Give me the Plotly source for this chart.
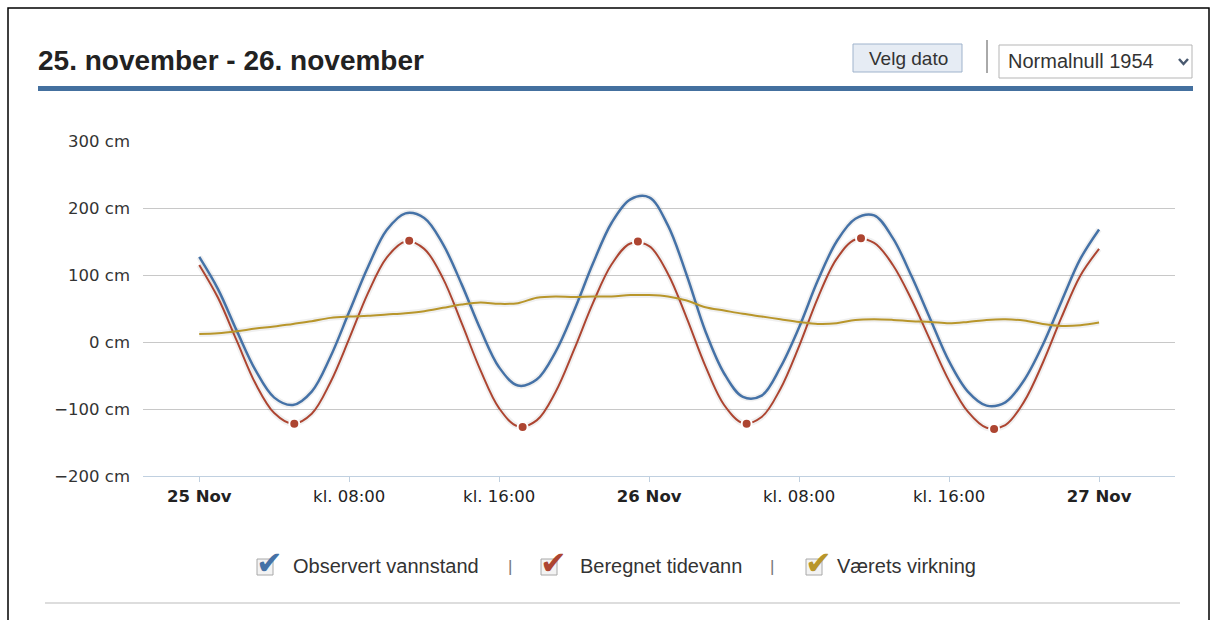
import pandas as pd
import plotly.graph_objects as go

# ---------------- data ----------------
start_time = "2013-11-25 00:00"
hours = list(range(49))  # hourly samples from 25 Nov 00:00 to 27 Nov 00:00

observed = [127, 79, 17, -42, -83, -94, -74, -22, 45, 112,
            167, 192, 185, 146, 86, 19, -38, -65, -56, -15,
            47, 117, 178, 213, 216, 174, 100, 16, -47, -82,
            -80, -38, 22, 92, 150, 184, 189, 155, 98, 34,
            -29, -74, -95, -90, -57, -4, 61, 124, 168]

tide = [115, 66, 2, -62, -106, -122, -107, -60, 5, 73,
        126, 150, 139, 95, 28, -42, -99, -126, -117, -75,
        -11, 58, 116, 147, 143, 102, 36, -36, -94, -121,
        -112, -70, -6, 66, 124, 153, 148, 115, 63, 2,
        -58, -104, -128, -124, -89, -31, 37, 99, 139]

weather = [12, 13, 16, 20, 23, 27, 31, 36, 38, 39,
           41, 43, 46, 51, 56, 59, 57, 58, 66, 68,
           67, 68, 68, 70, 70, 68, 62, 52, 47, 42,
           38, 34, 30, 27, 28, 33, 34, 33, 31, 30,
           28, 30, 33, 34, 32, 27, 24, 25, 29]

tide_extreme_hours = [5.07, 11.2, 17.25, 23.4, 29.2, 35.3, 42.4]
tide_extreme_values = [-122, 151, -127, 150, -122, 155, -130]

x_tick_hours = [0, 8, 16, 24, 32, 40, 48]
x_tick_labels = ["<b>25 Nov</b>", "kl. 08:00", "kl. 16:00", "<b>26 Nov</b>",
                 "kl. 08:00", "kl. 16:00", "<b>27 Nov</b>"]
y_tick_values = [-200, -100, 0, 100, 200, 300]
y_tick_labels = ["\u2212200 cm", "\u2212100 cm", "0 cm", "100 cm", "200 cm", "300 cm"]

series_names = ["Observert vannstand", "Beregnet tidevann", "Værets virkning"]
title_text = "25. november - 26. november"
button_text = "Velg dato"
datum_text = "Normalnull 1954"

# ---------------- styling ----------------
BLUE = "#4572A7"
RED = "#AD4531"
GOLD = "#B8962B"
series_colors = [BLUE, RED, GOLD]
UI_FONT = "Arial, Liberation Sans"

W, H = 1217, 620
PL, PR, PT, PB = 143, 1175, 141, 476  # plot area in pixels


def px(x):
    return (x - PL) / (PR - PL)


def py(y):
    return (PB - y) / (PB - PT)


base = pd.Timestamp(start_time)


def to_time(h):
    return (base + pd.Timedelta(hours=h)).strftime("%Y-%m-%d %H:%M:%S")


x_times = [to_time(h) for h in hours]

fig = go.Figure()

# soft shadows under the lines
for vals in (observed, tide, weather):
    fig.add_trace(go.Scatter(x=x_times, y=vals, mode="lines", showlegend=False,
                             line=dict(color="rgba(0,0,0,0.06)", width=6, shape="spline")))

fig.add_trace(go.Scatter(x=x_times, y=observed, name=series_names[0], mode="lines",
                         line=dict(color=BLUE, width=2.5, shape="spline")))
fig.add_trace(go.Scatter(x=x_times, y=tide, name=series_names[1], mode="lines",
                         line=dict(color=RED, width=2, shape="spline")))
fig.add_trace(go.Scatter(x=[to_time(h) for h in tide_extreme_hours], y=tide_extreme_values,
                         name=series_names[1], mode="markers",
                         marker=dict(color=RED, size=10, line=dict(color="white", width=2))))
fig.add_trace(go.Scatter(x=x_times, y=weather, name=series_names[2], mode="lines",
                         line=dict(color=GOLD, width=2, shape="spline")))

fig.update_xaxes(type="date", range=[to_time(-3.0), to_time(52.05)],
                 tickvals=[to_time(h) for h in x_tick_hours], ticktext=x_tick_labels,
                 ticks="outside", ticklen=5, tickcolor="#C0D0E0",
                 showline=True, linecolor="#C0D0E0", linewidth=1,
                 showgrid=False, zeroline=False,
                 tickfont=dict(family="DejaVu Sans", size=16.5, color="#222"))
fig.update_yaxes(range=[-200, 300], tickvals=y_tick_values, ticktext=y_tick_labels,
                 showgrid=True, gridcolor="#C8C8C8", gridwidth=1, zeroline=False,
                 showline=False, ticks="", ticklabelstandoff=12,
                 tickfont=dict(family="DejaVu Sans", size=16.5, color="#333"))

shapes = []
annotations = []

# outer frame
shapes.append(dict(type="rect", xref="paper", yref="paper",
                   x0=px(8), x1=px(1209), y0=py(8), y1=py(640),
                   line=dict(color="black", width=1.5), fillcolor="rgba(0,0,0,0)", layer="below"))
# title
annotations.append(dict(xref="paper", yref="paper", x=px(36), y=py(60), xanchor="left", yanchor="middle",
                        text="<b>" + title_text + "</b>", showarrow=False,
                        font=dict(family=UI_FONT, size=28, color="#222")))
# blue header bar
shapes.append(dict(type="rect", xref="paper", yref="paper",
                   x0=px(38), x1=px(1193), y0=py(86), y1=py(91),
                   line=dict(width=0), fillcolor="#44709F"))
# button
shapes.append(dict(type="rect", xref="paper", yref="paper",
                   x0=px(853), x1=px(962), y0=py(44), y1=py(72),
                   line=dict(color="#9FB3CC", width=1), fillcolor="#E6ECF4"))
annotations.append(dict(xref="paper", yref="paper", x=px(908), y=py(58), xanchor="center", yanchor="middle",
                        text=button_text, showarrow=False,
                        font=dict(family=UI_FONT, size=19, color="#333")))
# separator
shapes.append(dict(type="line", xref="paper", yref="paper",
                   x0=px(987), x1=px(987), y0=py(40), y1=py(73),
                   line=dict(color="#555", width=1)))
# dropdown
shapes.append(dict(type="rect", xref="paper", yref="paper",
                   x0=px(999), x1=px(1192), y0=py(45), y1=py(78),
                   line=dict(color="#B5B5B5", width=1), fillcolor="white"))
annotations.append(dict(xref="paper", yref="paper", x=px(1006), y=py(61), xanchor="left", yanchor="middle",
                        text=datum_text, showarrow=False,
                        font=dict(family=UI_FONT, size=20, color="#333")))
shapes.append(dict(type="path", xref="paper", yref="paper",
                   path="M {},{} L {},{} L {},{}".format(px(1179), py(59), px(1183.5), py(64), px(1188), py(59)),
                   line=dict(color="#4A5A70", width=2.5)))
# bottom divider
shapes.append(dict(type="line", xref="paper", yref="paper",
                   x0=px(45), x1=px(1180), y0=py(603), y1=py(603),
                   line=dict(color="#DDDDDD", width=2)))

# custom legend with check boxes
legend_box_x = [257, 541, 806]
legend_text_x = [291, 578, 835]
separator_x = [510, 772]
LY = 566
for bx, tx, name, col in zip(legend_box_x, legend_text_x, series_names, series_colors):
    shapes.append(dict(type="rect", xref="paper", yref="paper",
                       x0=px(bx), x1=px(bx + 16), y0=py(LY - 7), y1=py(LY + 9),
                       line=dict(color="#A8A8A8", width=1), fillcolor="#F3F3F3"))
    annotations.append(dict(xref="paper", yref="paper", x=px(bx + 12), y=py(LY - 3),
                            xanchor="center", yanchor="middle", text="✔", showarrow=False,
                            font=dict(family="DejaVu Sans", size=32, color=col)))
    annotations.append(dict(xref="paper", yref="paper", x=px(tx), y=py(LY), xanchor="left", yanchor="middle",
                            text=name, showarrow=False,
                            font=dict(family=UI_FONT, size=20, color="#333")))
for sx in separator_x:
    annotations.append(dict(xref="paper", yref="paper", x=px(sx), y=py(LY), xanchor="center", yanchor="middle",
                            text="|", showarrow=False,
                            font=dict(family=UI_FONT, size=17, color="#777")))

fig.update_layout(width=W, height=H, autosize=False,
                  margin=dict(l=PL, r=W - PR, t=PT, b=H - PB, pad=0),
                  paper_bgcolor="white", plot_bgcolor="white",
                  showlegend=False, hovermode=False,
                  shapes=shapes, annotations=annotations)

fig.write_html("out.html", config={"displayModeBar": False},
               post_script="document.body.style.margin='0';document.body.style.overflow='hidden';")
